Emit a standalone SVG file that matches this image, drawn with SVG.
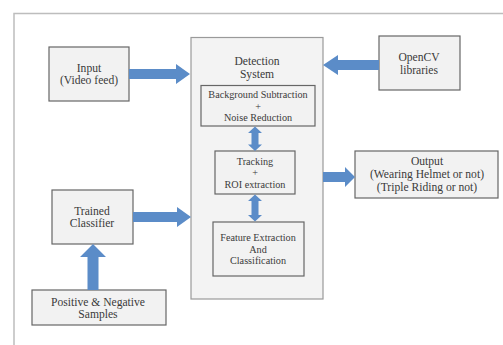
<svg xmlns="http://www.w3.org/2000/svg" width="503" height="345" viewBox="0 0 503 345">
<style>
.box{fill:#f2f2f2;stroke:#666;stroke-width:1.2}
.outer{fill:#f3f3f3;stroke:#9a9a9a;stroke-width:1.2}
.t{font-family:'Liberation Serif','Times New Roman',Times,serif;font-size:11.6px;fill:#3a3a3a;text-anchor:middle}
.s{font-size:10.2px}
.a{fill:#5b8cc8}
</style>
<rect width="503" height="345" fill="#ffffff"/>
<path d="M14,345 V13.5 H503" fill="none" stroke="#bdbdbd" stroke-width="1.5"/>
<g id="detection">
<rect class="outer" x="191" y="37.5" width="132" height="261.5"/>
<text class="t" x="257" y="65">Detection</text>
<text class="t" x="257" y="78">System</text>
</g>
<g id="bgsub">
<rect class="box" x="201" y="85.5" width="114" height="40.5"/>
<text class="t s" x="258" y="97.5">Background Subtraction</text>
<text class="t s" x="258" y="109.5">+</text>
<text class="t s" x="258" y="120.5">Noise Reduction</text>
</g>
<g id="tracking">
<rect class="box" x="215" y="151" width="80" height="43"/>
<text class="t s" x="255" y="164.5">Tracking</text>
<text class="t s" x="255" y="175.5">+</text>
<text class="t s" x="255" y="187.5">ROI extraction</text>
</g>
<g id="feature">
<rect class="box" x="213" y="222" width="91" height="54"/>
<text class="t s" x="258" y="240.5">Feature Extraction</text>
<text class="t s" x="258" y="252.5">And</text>
<text class="t s" x="258" y="263.5">Classification</text>
</g>
<g id="input">
<rect class="box" x="49" y="47" width="80" height="54"/>
<text class="t" x="89" y="71.5">Input</text>
<text class="t" x="89" y="84">(Video feed)</text>
</g>
<g id="opencv">
<rect class="box" x="379" y="36" width="81" height="54"/>
<text class="t" x="419" y="61">OpenCV</text>
<text class="t" x="419" y="74">libraries</text>
</g>
<g id="output">
<rect class="box" x="355" y="151" width="143" height="47"/>
<text class="t" x="427" y="165">Output</text>
<text class="t" x="427" y="178">(Wearing Helmet or not)</text>
<text class="t" x="427" y="191">(Triple Riding or not)</text>
</g>
<g id="classifier">
<rect class="box" x="52" y="190" width="81" height="54"/>
<text class="t" x="92" y="215">Trained</text>
<text class="t" x="92" y="227">Classifier</text>
</g>
<g id="samples">
<rect class="box" x="32" y="290" width="134" height="35"/>
<text class="t" x="98" y="306">Positive &amp; Negative</text>
<text class="t" x="98" y="318">Samples</text>
</g>
<g id="connectors">
<polygon class="a" points="129,69 176,69 176,64 190,74 176,84 176,79 129,79"/>
<polygon class="a" points="379,60 338,60 338,55 323,65 338,75 338,70 379,70"/>
<polygon class="a" points="323,172 345,172 345,167 355,177 345,187 345,182 323,182"/>
<polygon class="a" points="133,212 177,212 177,207 191,217 177,227 177,222 133,222"/>
<polygon class="a" points="87.5,290 87.5,257 80,257 93,244 106,257 98.5,257 98.5,290"/>
<polygon class="a" points="255,126.5 262,133 258.5,133 258.5,144.5 262,144.5 255,151 248,144.5 251.5,144.5 251.5,133 248,133"/>
<polygon class="a" points="255,194.5 262,201 258.5,201 258.5,215 262,215 255,221.5 248,215 251.5,215 251.5,201 248,201"/>
</g>
</svg>
